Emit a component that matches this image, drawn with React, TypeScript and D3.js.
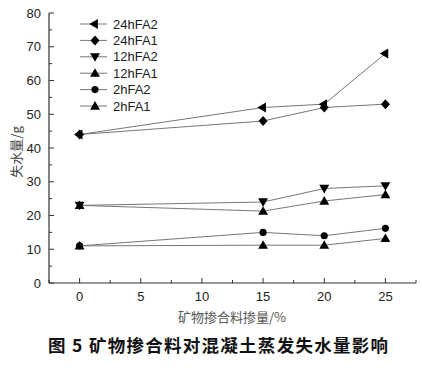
import { scaleLinear, line, symbol, symbolCircle, symbolTriangle } from "d3";

const xValues = [0, 15, 20, 25];
const seriesNames = ["24hFA2", "24hFA1", "12hFA2", "12hFA1", "2hFA2", "2hFA1"];
const s24hFA2 = [44, 52, 53, 68];
const s24hFA1 = [44, 48, 52, 53];
const s12hFA2 = [23, 24, 28, 28.8];
const s12hFA1 = [23, 21.3, 24.3, 26.2];
const s2hFA2 = [11, 15, 14, 16.2];
const s2hFA1 = [11, 11.2, 11.2, 13.2];
const xTicks = [0, 5, 10, 15, 20, 25];
const yTicks = [0, 10, 20, 30, 40, 50, 60, 70, 80];

const markers = ["left", "diamond", "down", "up", "circle", "up"];
const seriesData = [s24hFA2, s24hFA1, s12hFA2, s12hFA1, s2hFA2, s2hFA1];

const margin = { top: 13, right: 6, bottom: 85, left: 49 };
const W = 422;
const H = 368;
const width = W - margin.left - margin.right;
const height = H - margin.top - margin.bottom;

function Marker({ kind, x, y }) {
  if (kind === "circle") {
    return <path transform={`translate(${x},${y})`} d={symbol(symbolCircle, 40)()} fill="#000" />;
  }
  if (kind === "diamond") {
    return (
      <path
        transform={`translate(${x},${y})`}
        d="M0,-5L4.5,0L0,5L-4.5,0Z"
        fill="#000"
      />
    );
  }
  const rot = kind === "up" ? 0 : kind === "down" ? 180 : -90;
  return (
    <path
      transform={`translate(${x},${y + (kind === "up" ? 0.8 : kind === "down" ? -0.8 : 0)}) rotate(${rot})`}
      d={symbol(symbolTriangle, 42)()}
      fill="#000"
    />
  );
}

export default function App() {
  const x = scaleLinear().domain([-2.5, 27.5]).range([0, width]);
  const y = scaleLinear().domain([0, 80]).range([height, 0]);
  const path = line<number>()
    .x((_, i) => x(xValues[i]))
    .y((d) => y(d));

  const xMinor = [-2.5, 2.5, 7.5, 12.5, 17.5, 22.5, 27.5];
  const yMinor = [5, 15, 25, 35, 45, 55, 65, 75];

  return (
    <svg width={W} height={H} style={{ position: "absolute", left: 0, top: 0 }} fontFamily="Arial, 'Liberation Sans', sans-serif">
      <rect width={W} height={H} fill="#fff" />
      <g transform={`translate(${margin.left},${margin.top})`}>
        {seriesData.map((d, k) => (
          <g key={seriesNames[k]}>
            <path d={path(d) || ""} fill="none" stroke="#777" strokeWidth={1} />
            {d.map((v, i) => (
              <Marker key={i} kind={markers[k]} x={x(xValues[i])} y={y(v)} />
            ))}
          </g>
        ))}
        {/* axes */}
        <line x1={0} x2={0} y1={0} y2={height} stroke="#333" strokeWidth={1.2} />
        <line x1={0} x2={width} y1={height} y2={height} stroke="#333" strokeWidth={1.2} />
        {yTicks.map((t) => (
          <g key={`y${t}`}>
            <line x1={0} x2={5} y1={y(t)} y2={y(t)} stroke="#333" />
            <text x={-8} y={y(t)} dy="0.35em" textAnchor="end" fontSize={13} fill="#222">
              {t}
            </text>
          </g>
        ))}
        {yMinor.map((t) => (
          <line key={`ym${t}`} x1={0} x2={3} y1={y(t)} y2={y(t)} stroke="#333" />
        ))}
        {xTicks.map((t) => (
          <g key={`x${t}`}>
            <line x1={x(t)} x2={x(t)} y1={height} y2={height - 5} stroke="#333" />
            <text x={x(t)} y={height + 18} textAnchor="middle" fontSize={13} fill="#222">
              {t}
            </text>
          </g>
        ))}
        {xMinor.map((t) => (
          <line key={`xm${t}`} x1={x(t)} x2={x(t)} y1={height} y2={height - 3} stroke="#333" />
        ))}
        {/* legend */}
        {seriesNames.map((n, k) => {
          const ly = 11 + k * 16.4;
          return (
            <g key={`lg${n}`} transform={`translate(31,${ly})`}>
              <line x1={0} x2={27} y1={0} y2={0} stroke="#777" />
              <Marker kind={markers[k]} x={15} y={0} />
              <text x={33} y={0} dy="0.35em" fontSize={13} fill="#222">
                {n}
              </text>
            </g>
          );
        })}
      </g>
      <text
        transform={`translate(21,152) rotate(-90)`}
        textAnchor="middle"
        fontSize={13}
        fill="#444"
        fontFamily="'Noto Sans CJK SC', sans-serif"
      >
        失水量/g
      </text>
      <text
        x={232}
        y={322}
        textAnchor="middle"
        fontSize={13}
        fill="#555"
        fontFamily="'Noto Sans CJK SC', sans-serif"
      >
        矿物掺合料掺量/%
      </text>
      <text
        x={48}
        y={352}
        fontSize={17.5}
        fontWeight="bold"
        fill="#111"
        textLength={340}
        lengthAdjust="spacing"
        fontFamily="'Noto Sans CJK SC', sans-serif"
      >
        图 5 矿物掺合料对混凝土蒸发失水量影响
      </text>
    </svg>
  );
}
